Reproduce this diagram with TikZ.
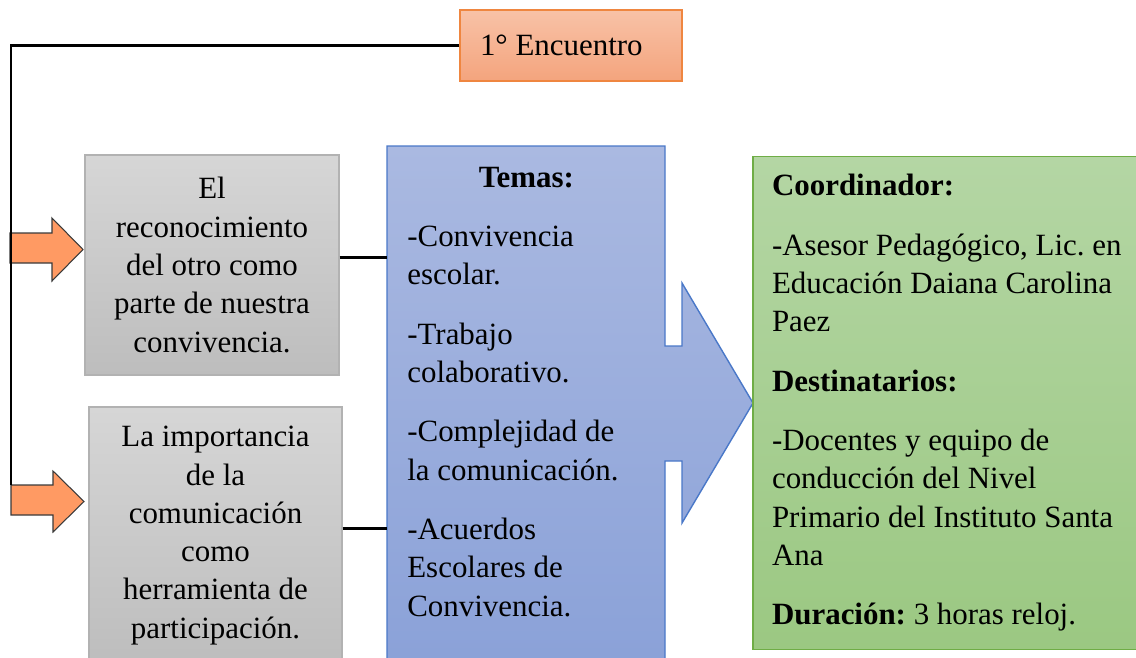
\documentclass[tikz,border=0pt]{standalone}
\usepackage{fontspec}
\setmainfont{Liberation Serif}
\usepackage{tikz}
\usetikzlibrary{positioning}
\frenchspacing
\definecolor{orangetop}{HTML}{F8C2A7}
\definecolor{orangebot}{HTML}{F4A47D}
\definecolor{orangeline}{HTML}{EF8640}
\definecolor{graytop}{HTML}{D6D6D6}
\definecolor{graybot}{HTML}{BDBDBD}
\definecolor{grayline}{HTML}{B2B2B2}
\definecolor{bluetop}{HTML}{AAB9E1}
\definecolor{bluebot}{HTML}{8AA1D8}
\definecolor{blueline}{HTML}{4A78C8}
\definecolor{greentop}{HTML}{B4D6A4}
\definecolor{greenbot}{HTML}{9BC882}
\definecolor{greenline}{HTML}{6FAD46}
\definecolor{arrowfill}{HTML}{FF9A63}
\definecolor{arrowline}{HTML}{3A3A3A}

\begin{document}
\begin{tikzpicture}[x=0.02cm,y=-0.02cm,
	every node/.style={font=\fontsize{17.6}{21.8}\selectfont, inner sep=0pt},
	encbox/.style={draw=orangeline, line width=0.8pt, top color=orangetop, bottom color=orangebot, minimum width=4.44cm, minimum height=1.42cm, text width=3.64cm, inner xsep=0.4cm, align=flush left},
	graybox/.style={draw=grayline, line width=0.8pt, top color=graytop, bottom color=graybot, align=flush center},
	greenbox/.style={draw=greenline, line width=0.8pt, top color=greentop, bottom color=greenbot, minimum height=9.86cm, text width=7.6cm, inner xsep=0.38cm, align=flush left},
	textbox/.style={text width=4.76cm, inner xsep=0.4cm, align=flush left},
	conn/.style={line width=1.7pt},
	blockarrow/.style={fill=arrowfill, draw=arrowline, line width=0.6pt, line join=miter}
]
	\useasboundingbox (0,0) rectangle (1136,657);
	\node[encbox] (enc) at (571,45.5) {1° Encuentro};
	\node[graybox, minimum width=5.08cm, minimum height=4.4cm] (g1) at (212,265) {El\\reconocimiento\\del otro como\\parte de nuestra\\convivencia.};
	\node[graybox, minimum width=5.06cm, minimum height=5.14cm] (g2) at (215.5,535.5) {La importancia\\de la\\comunicación\\como\\herramienta de\\participación.};
	\shade[draw=blueline, line width=0.8pt, top color=bluetop, bottom color=bluebot] (387,146) -- (665,146) -- (665,346) -- (682,346) -- (682,283) -- (753,403) -- (682,523) -- (682,461) -- (665,461) -- (665,672) -- (387,672) -- cycle;
	\node[textbox, anchor=base west] (temas) at (387,187) {\makebox[\linewidth]{\textbf{Temas:}}\\[12pt]
		-Convivencia\\escolar.\\[12pt]
		-Trabajo\\colaborativo.\\[12pt]
		-Complejidad de\\la comunicación.\\[12pt]
		-Acuerdos\\Escolares de\\Convivencia.};
	\node[greenbox] (coord) at (962,403) {\textbf{Coordinador:}\\[12pt]
		-Asesor Pedagógico, Lic. en\\Educación Daiana Carolina\\Paez\\[12pt]
		\textbf{Destinatarios:}\\[12pt]
		-Docentes y equipo de\\conducción del Nivel\\Primario del Instituto Santa\\Ana\\[12pt]
		\textbf{Duración:} 3 horas reloj.};
	\draw[blockarrow] (10,233) -- (52,233) -- (52,218) -- (83,249.5) -- (52,281) -- (52,263) -- (10,263) -- cycle;
	\draw[blockarrow] (11,485) -- (53,485) -- (53,471) -- (84,501.5) -- (53,532) -- (53,515) -- (11,515) -- cycle;
	\coordinate (junc) at (11,485);
	\draw[conn] (enc.west) -| (junc);
	\draw[conn] ([yshift=0.16cm]g1.east) -- ([yshift=0.16cm]g1.east -| temas.west);
	\draw[conn] ([yshift=0.15cm]g2.east) -- ([yshift=0.15cm]g2.east -| temas.west);
\end{tikzpicture}
\end{document}
